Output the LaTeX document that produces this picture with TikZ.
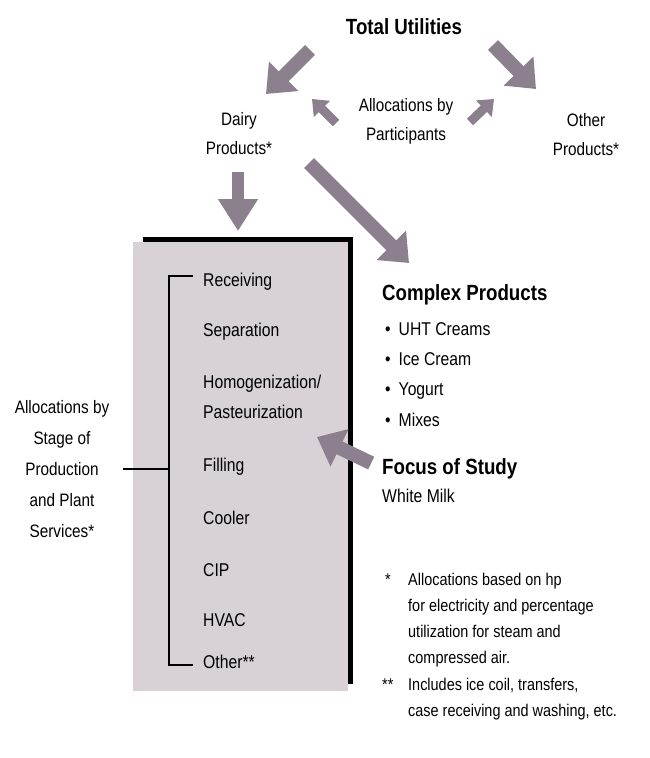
\documentclass[tikz,border=0pt]{standalone}
\usepackage{fontspec}
\setmainfont{Liberation Sans}[FakeStretch=0.85]
\usetikzlibrary{arrows.meta}
\definecolor{arrowgray}{HTML}{8C7F8E}
\definecolor{boxgray}{HTML}{D8D1D5}
\tikzset{
  txt/.style={font=\fontsize{18}{29}\selectfont, align=center, inner sep=0pt},
  head/.style={font=\bfseries\fontsize{22}{26}\selectfont, inner sep=0pt},
  stage/.style={font=\fontsize{18.5}{30}\selectfont, anchor=base west, inner sep=0pt, align=left},
  note/.style={font=\fontsize{17}{26.2}\selectfont, anchor=base west, inner sep=0pt, align=left},
  fat/.style={draw=arrowgray, line width=14pt, -{Triangle[width=40pt,length=25pt]}},
  thin/.style={draw=arrowgray, line width=9pt, -{Triangle[width=22pt,length=14pt]}},
  bracket/.style={draw=black, line width=1.5pt},
}
\begin{document}
\begin{tikzpicture}[x=1pt,y=-1pt]
    \useasboundingbox (0,0) rectangle (650,758);
    % box with shadow
    \fill[black] (143,237) rectangle (353,684);
    \fill[boxgray] (133,242) rectangle (348,691);
    % top part
    \node[head] (total) at (404,27) {Total Utilities};
    \node[txt] (dairy) at (239,134) {Dairy\\Products*};
    \node[txt] (part) at (406,121) {Allocations by\\Participants};
    \node[txt] (other) at (586,135) {Other\\Products*};
    % stages
    \node[stage] (recv) at (203,286) {Receiving};
    \node[stage] (sep) at (203,336) {Separation};
    \node[stage] (homog) at (203,418) {Homogenization/\\Pasteurization};
    \node[stage] (fill) at (203,471) {Filling};
    \node[stage] (cool) at (203,524) {Cooler};
    \node[stage] (cip) at (203,576) {CIP};
    \node[stage] (hvac) at (203,626) {HVAC};
    \node[stage] (othr) at (203,668) {Other**};
    \node[txt, font=\fontsize{18}{31}\selectfont] (stagelbl) at (62,469) {Allocations by\\Stage of\\Production\\and Plant\\Services*};
    % right side
    \node[head, anchor=base west] (complex) at (382,300) {Complex Products};
    \node[stage] (uht) at (385,335) {\textbullet\hspace{8pt}UHT Creams};
    \node[stage] (ice) at (385,365) {\textbullet\hspace{8pt}Ice Cream};
    \node[stage] (yog) at (385,395) {\textbullet\hspace{8pt}Yogurt};
    \node[stage] (mix) at (385,426) {\textbullet\hspace{8pt}Mixes};
    \node[head, anchor=base west] (focus) at (382,474) {Focus of Study};
    \node[stage] (milk) at (382,502) {White Milk};
    % notes
    \node[note] (star1) at (385,585) {*};
    \node[note] (note1) at (408,663.6) {Allocations based on hp\\for electricity and percentage\\utilization for steam and\\compressed air.};
    \node[note] (star2) at (382,690) {**};
    \node[note] (note2) at (408,716.2) {Includes ice coil, transfers,\\case receiving and washing, etc.};
    % bracket
    \coordinate (btop) at (169,276);
    \coordinate (bbot) at (169,665);
    \coordinate (bmid) at (169,469);
    \draw[bracket] (193,276) -- (btop) -- (bbot) -- (193,665);
    \draw[bracket] ([xshift=14pt]stagelbl.east) -- (bmid);
    % arrows
    \coordinate (tl) at (310,50);
    \coordinate (dl) at (266,94);
    \coordinate (tr) at (493,45);
    \coordinate (or) at (536,89);
    \coordinate (pl) at (336,123);
    \coordinate (pl2) at (312,99);
    \coordinate (pr) at (470,122);
    \coordinate (pr2) at (494,99);
    \coordinate (dd) at (238,172);
    \coordinate (bx) at (238,231);
    \coordinate (dg) at (309,163);
    \coordinate (cx) at (409,263);
    \coordinate (pas) at (317,437);
    \draw[fat] (tl) -- (dl);
    \draw[fat] (tr) -- (or);
    \draw[thin] (pl) -- (pl2);
    \draw[thin] (pr) -- (pr2);
    \draw[fat, line width=12pt, -{Triangle[width=38pt,length=32pt]}] (dd) -- (bx);
    \draw[fat] (dg) -- (cx);
    \draw[fat, shorten <=12pt] (focus.west) -- (pas);
\end{tikzpicture}
\end{document}
